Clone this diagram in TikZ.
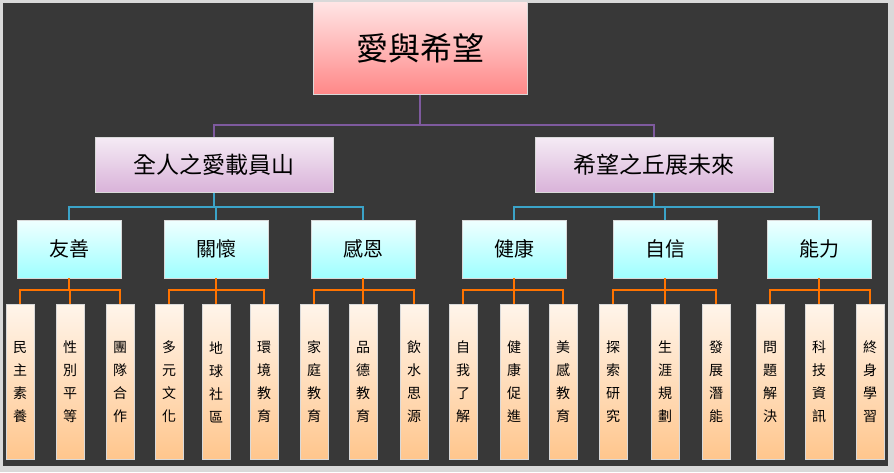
\documentclass[tikz,border=0pt]{standalone}
\usepackage{fontspec}
\newfontfamily\cjk{Noto Sans CJK TC}
\definecolor{linepurple}{HTML}{7E5A9E}
\definecolor{lineblue}{HTML}{3BA3C8}
\begin{document}
\begin{tikzpicture}[x=1pt,y=-1pt,
  box/.style={draw=white!85!black,line width=0.6pt,inner sep=0pt,font=\cjk},
  top/.style={box,minimum width=214pt,minimum height=93pt,top color=pink!40,bottom color=red!40!pink!85,font=\cjk\fontsize{32}{32}\selectfont},
  lvtwo/.style={box,minimum width=238pt,minimum height=55pt,top color=violet!8,bottom color=violet!30,font=\cjk\fontsize{23}{23}\selectfont},
  lvthree/.style={box,minimum width=104pt,minimum height=58pt,top color=cyan!6,bottom color=cyan!38,font=\cjk\fontsize{20}{20}\selectfont},
  leaf/.style={box,minimum width=28pt,minimum height=155pt,top color=orange!8,bottom color=orange!45,font=\cjk\fontsize{14}{23}\selectfont,align=center},
  lnp/.style={draw=linepurple,line width=1.8pt},
  lnb/.style={draw=lineblue,line width=1.8pt},
  lno/.style={draw=orange!90!red,line width=1.8pt}]
\useasboundingbox (0,0) rectangle (894,472);
\fill[black!15] (0,0) rectangle (894,472);
\fill[black!78] (3,3) rectangle (888,466);
\node[top] (T) at (420,48) {愛與希望};
\node[lvtwo] (A) at (214,165) {全人之愛載員山};
\node[lvtwo] (B) at (654,165) {希望之丘展未來};
\draw[lnp] (T.south) -- ++(0,30) -| (A.north);
\draw[lnp] (T.south) -- ++(0,30) -| (B.north);
\foreach \n/\x/\t/\p in {a1/69/友善/A,a2/216/關懷/A,a3/363/感恩/A,b1/514/健康/B,b2/665/自信/B,b3/819/能力/B}{
  \node[lvthree] (\n) at (\x,249) {\t};
  \draw[lnb] (\p.south) -- ++(0,14) -| (\n.north);
}
\foreach \n/\x/\t/\p in {
 l1/20/民\\主\\素\\養/a1, l2/70/性\\別\\平\\等/a1, l3/120/團\\隊\\合\\作/a1,
 l4/169/多\\元\\文\\化/a2, l5/216/地\\球\\社\\區/a2, l6/264/環\\境\\教\\育/a2,
 l7/314/家\\庭\\教\\育/a3, l8/363/品\\德\\教\\育/a3, l9/414/飲\\水\\思\\源/a3,
 l10/463/自\\我\\了\\解/b1, l11/514/健\\康\\促\\進/b1, l12/563/美\\感\\教\\育/b1,
 l13/613/探\\索\\研\\究/b2, l14/665/生\\涯\\規\\劃/b2, l15/716/發\\展\\潛\\能/b2,
 l16/770/問\\題\\解\\決/b3, l17/819/科\\技\\資\\訊/b3, l18/870/終\\身\\學\\習/b3}{
  \node[leaf] (\n) at (\x,382) {\t};
  \draw[lno] (\p.south) -- ++(0,12) -| (\n.north);
}
\end{tikzpicture}
\end{document}
